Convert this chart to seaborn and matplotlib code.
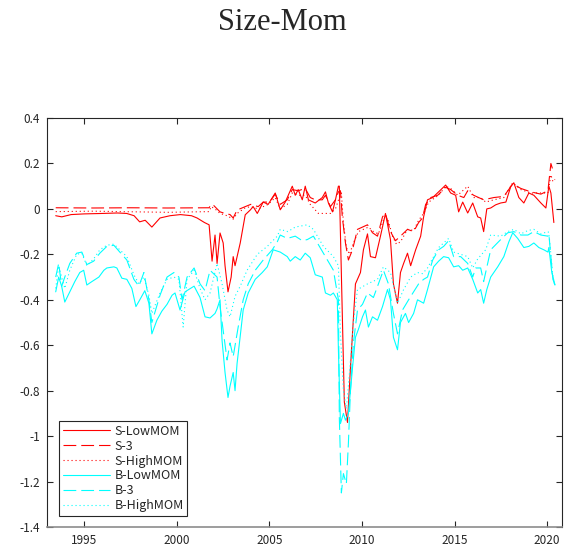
"""
Size-Mom: six size/momentum portfolio series, MATLAB-like look, saved to out.png.
"""
import matplotlib

matplotlib.use("Agg")
import matplotlib.pyplot as plt
import pandas as pd
import seaborn as sns

# --- data (year, value) ---
s_low_years = [1993.47, 1993.8, 1994.3, 1995.0, 1996.0, 1996.8, 1997.3, 1997.7, 1998.0, 1998.3,
               1998.66, 1999.1, 1999.64, 2000.2, 2000.8, 2001.1, 2001.5, 2001.75, 2001.91, 2002.07,
               2002.18, 2002.34, 2002.51, 2002.61, 2002.77, 2002.94, 2003.05, 2003.15, 2003.43, 2003.70,
               2003.97, 2004.13, 2004.35, 2004.67, 2004.94, 2005.32, 2005.59, 2005.86, 2006.24, 2006.40,
               2006.56, 2006.78, 2006.94, 2007.11, 2007.48, 2007.86, 2008.03, 2008.19, 2008.41, 2008.57,
               2008.73, 2008.78, 2009.05, 2009.22, 2009.38, 2009.65, 2009.92, 2010.08, 2010.30, 2010.46,
               2010.73, 2011.0, 2011.27, 2011.54, 2011.70, 2011.92, 2012.08, 2012.25, 2012.46, 2012.63,
               2012.90, 2013.17, 2013.33, 2013.54, 2013.82, 2014.14, 2014.52, 2014.79, 2015.06, 2015.22,
               2015.44, 2015.71, 2015.98, 2016.25, 2016.41, 2016.57, 2016.74, 2016.95, 2017.22, 2017.49,
               2017.77, 2018.04, 2018.20, 2018.47, 2018.74, 2019.01, 2019.28, 2019.66, 2019.93, 2020.09,
               2020.20, 2020.36]
s_low_vals = [-0.03, -0.035, -0.025, -0.022, -0.02, -0.018, -0.02, -0.03, -0.057, -0.05,
              -0.08, -0.04, -0.03, -0.025, -0.03, -0.04, -0.06, -0.07, -0.23, -0.115,
              -0.24, -0.106, -0.15, -0.25, -0.365, -0.30, -0.21, -0.25, -0.15, -0.026,
              -0.005, 0.01, -0.02, 0.03, 0.02, 0.07, -0.004, 0.03, 0.10, 0.06,
              0.085, 0.04, 0.10, 0.04, 0.026, 0.05, 0.075, 0.026, -0.013, 0.04,
              0.10, 0.10, -0.85, -0.94, -0.70, -0.33, -0.28, -0.18, -0.11, -0.21,
              -0.215, -0.12, -0.02, -0.135, -0.33, -0.415, -0.28, -0.24, -0.195, -0.25,
              -0.18, -0.12, -0.035, 0.04, 0.05, 0.075, 0.105, 0.07, 0.06, -0.013,
              0.03, -0.018, 0.026, -0.035, -0.04, -0.10, 0.0, 0.004, 0.018, 0.026,
              0.03, 0.10, 0.115, 0.05, 0.026, 0.07, 0.06, 0.026, 0.004, 0.10,
              0.07, -0.06]

s_mid_years = [1993.47, 1995.5, 1997.5, 1999.5, 2001.75, 2001.86, 2002.0, 2002.34, 2002.61, 2002.88,
               2003.05, 2003.26, 2003.70, 2004.0, 2004.4, 2004.67, 2005.0, 2005.32, 2005.59, 2005.97,
               2006.24, 2006.56, 2006.94, 2007.21, 2007.48, 2007.86, 2008.03, 2008.30, 2008.57, 2008.73,
               2008.84, 2008.94, 2009.11, 2009.27, 2009.49, 2009.76, 2010.03, 2010.30, 2010.57, 2010.84,
               2011.11, 2011.27, 2011.54, 2011.81, 2012.08, 2012.46, 2012.79, 2013.06, 2013.27, 2013.44,
               2013.71, 2014.09, 2014.52, 2014.79, 2015.17, 2015.5, 2015.71, 2016.03, 2016.57, 2017.12,
               2017.66, 2018.14, 2018.58, 2019.12, 2019.66, 2020.04, 2020.20, 2020.31, 2020.42]
s_mid_vals = [0.005, 0.004, 0.005, 0.004, 0.005, 0.02, 0.015, -0.013, -0.02, -0.025,
              -0.04, -0.005, 0.01, 0.02, 0.01, 0.03, 0.03, 0.065, 0.02, 0.04,
              0.085, 0.08, 0.09, 0.05, 0.04, 0.04, 0.06, 0.01, 0.04, 0.075,
              0.08, -0.035, -0.15, -0.225, -0.18, -0.09, -0.08, -0.07, -0.105, -0.12,
              -0.035, -0.02, -0.10, -0.14, -0.12, -0.09, -0.10, -0.06, -0.04, 0.02,
              0.05, 0.06, 0.095, 0.085, 0.06, 0.05, 0.08, 0.06, 0.04, 0.05,
              0.055, 0.11, 0.09, 0.075, 0.065, 0.08, 0.20, 0.17, 0.16]

s_high_years = [1993.47, 1995.5, 1997.0, 1999.5, 2001.75, 2001.86, 2002.07, 2002.34, 2002.72, 2003.05,
                2003.26, 2003.70, 2004.0, 2004.4, 2004.94, 2005.32, 2005.59, 2005.97, 2006.24, 2006.56,
                2006.94, 2007.21, 2007.65, 2008.03, 2008.30, 2008.57, 2008.78, 2008.89, 2009.00, 2009.16,
                2009.33, 2009.54, 2009.81, 2010.08, 2010.35, 2010.62, 2010.89, 2011.16, 2011.38, 2011.65,
                2011.86, 2012.08, 2012.46, 2012.79, 2013.06, 2013.33, 2013.6, 2013.87, 2014.14, 2014.52,
                2014.79, 2015.17, 2015.71, 2016.03, 2016.41, 2016.68, 2017.12, 2017.66, 2018.14, 2018.58,
                2019.12, 2019.66, 2020.04, 2020.20, 2020.31, 2020.42]
s_high_vals = [-0.012, -0.01, -0.012, -0.015, -0.012, 0.01, 0.0, -0.02, -0.03, -0.045,
               -0.02, 0.005, 0.01, 0.0, 0.02, 0.05, 0.0, 0.02, 0.07, 0.06,
               0.06, 0.02, -0.02, -0.02, -0.02, 0.0, 0.05, 0.07, -0.06, -0.17,
               -0.20, -0.15, -0.10, -0.09, -0.08, -0.10, -0.11, -0.05, -0.04, -0.12,
               -0.155, -0.145, -0.09, -0.095, -0.05, -0.02, 0.03, 0.045, 0.06, 0.10,
               0.09, 0.06, 0.10, 0.05, 0.05, 0.03, 0.04, 0.05, 0.115, 0.085,
               0.07, 0.07, 0.07, 0.15, 0.12, 0.13]

b_low_years = [1993.47, 1993.63, 1993.79, 1993.96, 1994.23, 1994.50, 1994.77, 1994.98, 1995.15, 1995.42,
               1995.80, 1996.07, 1996.23, 1996.61, 1996.77, 1997.04, 1997.31, 1997.58, 1997.80, 1998.01,
               1998.28, 1998.50, 1998.66, 1998.93, 1999.20, 1999.48, 1999.75, 1999.91, 2000.18, 2000.45,
               2000.94, 2001.26, 2001.53, 2001.80, 2002.07, 2002.18, 2002.34, 2002.45, 2002.61, 2002.77,
               2002.88, 2003.05, 2003.15, 2003.26, 2003.43, 2003.59, 2003.86, 2004.24, 2004.62, 2004.89,
               2005.21, 2005.59, 2005.97, 2006.13, 2006.40, 2006.67, 2006.94, 2007.21, 2007.48, 2007.86,
               2008.03, 2008.30, 2008.46, 2008.67, 2008.73, 2008.84, 2009.00, 2009.11, 2009.27, 2009.49,
               2009.65, 2009.81, 2010.03, 2010.19, 2010.35, 2010.57, 2010.84, 2011.11, 2011.38, 2011.54,
               2011.70, 2011.92, 2012.08, 2012.35, 2012.52, 2012.79, 2013.00, 2013.33, 2013.54, 2013.87,
               2014.14, 2014.41, 2014.68, 2014.95, 2015.22, 2015.44, 2015.71, 2015.98, 2016.25, 2016.41,
               2016.57, 2016.74, 2016.95, 2017.33, 2017.66, 2017.93, 2018.14, 2018.41, 2018.74, 2019.01,
               2019.28, 2019.55, 2019.82, 2020.04, 2020.09, 2020.25, 2020.42]
b_low_vals = [-0.365, -0.30, -0.34, -0.41, -0.365, -0.32, -0.28, -0.27, -0.335, -0.32,
              -0.30, -0.27, -0.26, -0.255, -0.26, -0.305, -0.31, -0.35, -0.43, -0.40,
              -0.36, -0.415, -0.55, -0.49, -0.45, -0.42, -0.38, -0.37, -0.445, -0.365,
              -0.34, -0.39, -0.475, -0.48, -0.46, -0.44, -0.40, -0.58, -0.72, -0.83,
              -0.78, -0.72, -0.80, -0.68, -0.56, -0.445, -0.37, -0.31, -0.28, -0.255,
              -0.18, -0.19, -0.21, -0.23, -0.21, -0.225, -0.195, -0.215, -0.29, -0.30,
              -0.37, -0.38, -0.37, -0.40, -0.62, -0.945, -0.90, -0.93, -0.90, -0.70,
              -0.565, -0.53, -0.475, -0.445, -0.52, -0.475, -0.49, -0.43, -0.355, -0.40,
              -0.565, -0.62, -0.50, -0.46, -0.50, -0.46, -0.40, -0.415, -0.355, -0.255,
              -0.23, -0.21, -0.215, -0.255, -0.25, -0.27, -0.26, -0.31, -0.37, -0.355,
              -0.415, -0.355, -0.30, -0.255, -0.21, -0.145, -0.105, -0.13, -0.17, -0.165,
              -0.15, -0.17, -0.18, -0.19, -0.17, -0.28, -0.335]

b_mid_years = [1993.47, 1993.63, 1993.79, 1993.96, 1994.23, 1994.60, 1994.88, 1995.15, 1995.52, 1995.85,
               1996.23, 1996.61, 1996.93, 1997.31, 1997.69, 1997.96, 1998.23, 1998.50, 1998.66, 1999.10,
               1999.48, 1999.85, 2000.12, 2000.29, 2000.56, 2000.94, 2001.26, 2001.53, 2001.80, 2002.18,
               2002.34, 2002.72, 2002.88, 2003.05, 2003.32, 2003.59, 2003.86, 2004.24, 2004.67, 2005.16,
               2005.43, 2005.59, 2005.97, 2006.40, 2006.78, 2007.05, 2007.38, 2007.92, 2008.46, 2008.73,
               2008.78, 2008.89, 2009.00, 2009.16, 2009.27, 2009.38, 2009.54, 2009.76, 2010.03, 2010.30,
               2010.62, 2010.89, 2011.16, 2011.43, 2011.70, 2011.92, 2012.19, 2012.52, 2013.06, 2013.33,
               2013.54, 2013.82, 2014.14, 2014.41, 2014.68, 2014.95, 2015.33, 2015.71, 2015.98, 2016.14,
               2016.41, 2016.57, 2016.95, 2017.49, 2017.87, 2018.20, 2018.58, 2018.96, 2019.28, 2019.66,
               2020.04, 2020.09, 2020.31, 2020.42]
b_mid_vals = [-0.30, -0.24, -0.34, -0.30, -0.24, -0.195, -0.19, -0.245, -0.23, -0.195,
              -0.165, -0.16, -0.19, -0.225, -0.31, -0.34, -0.28, -0.40, -0.50, -0.38,
              -0.30, -0.28, -0.30, -0.40, -0.30, -0.26, -0.33, -0.36, -0.27, -0.30,
              -0.43, -0.665, -0.59, -0.65, -0.52, -0.40, -0.33, -0.27, -0.225, -0.18,
              -0.145, -0.115, -0.13, -0.12, -0.14, -0.135, -0.12, -0.195, -0.27, -0.40,
              -0.92, -1.25, -1.165, -1.21, -1.03, -0.80, -0.59, -0.445, -0.42, -0.37,
              -0.39, -0.33, -0.27, -0.33, -0.46, -0.55, -0.445, -0.40, -0.33, -0.31,
              -0.30, -0.225, -0.18, -0.165, -0.14, -0.21, -0.21, -0.24, -0.30, -0.26,
              -0.26, -0.32, -0.18, -0.135, -0.105, -0.10, -0.115, -0.115, -0.10, -0.115,
              -0.12, -0.11, -0.31, -0.335]

b_high_years = [1993.47, 1993.63, 1993.79, 1993.96, 1994.23, 1994.60, 1994.88, 1995.15, 1995.52, 1995.85,
                1996.23, 1996.61, 1996.93, 1997.31, 1997.69, 1997.96, 1998.23, 1998.50, 1998.66, 1999.10,
                1999.48, 1999.85, 2000.12, 2000.35, 2000.56, 2000.94, 2001.26, 2001.53, 2001.80, 2002.18,
                2002.45, 2002.72, 2002.88, 2003.15, 2003.43, 2003.80, 2004.35, 2004.89, 2005.43, 2005.59,
                2006.0, 2006.4, 2007.05, 2007.38, 2007.92, 2008.46, 2008.73, 2008.84, 2009.0, 2009.16,
                2009.33, 2009.54, 2009.76, 2010.30, 2010.84, 2011.16, 2011.54, 2011.92, 2012.25, 2012.63,
                2013.0, 2013.27, 2013.54, 2013.87, 2014.14, 2014.41, 2014.68, 2014.95, 2015.33, 2015.71,
                2015.98, 2016.25, 2016.68, 2016.95, 2017.49, 2017.87, 2018.20, 2018.58, 2018.96, 2019.28,
                2019.66, 2020.04, 2020.09, 2020.31, 2020.42]
b_high_vals = [-0.35, -0.25, -0.30, -0.35, -0.27, -0.20, -0.195, -0.25, -0.22, -0.18,
               -0.16, -0.155, -0.18, -0.21, -0.29, -0.33, -0.30, -0.38, -0.46, -0.37,
               -0.31, -0.30, -0.31, -0.52, -0.31, -0.27, -0.35, -0.40, -0.37, -0.24,
               -0.33, -0.445, -0.475, -0.385, -0.34, -0.27, -0.20, -0.165, -0.12, -0.09,
               -0.10, -0.08, -0.07, -0.09, -0.165, -0.21, -0.25, -0.55, -0.80, -0.88,
               -0.72, -0.50, -0.355, -0.33, -0.31, -0.255, -0.28, -0.415, -0.355, -0.30,
               -0.28, -0.285, -0.26, -0.21, -0.17, -0.15, -0.13, -0.19, -0.20, -0.21,
               -0.26, -0.22, -0.18, -0.115, -0.12, -0.10, -0.09, -0.11, -0.095, -0.09,
               -0.11, -0.10, -0.105, -0.30, -0.34]

series = [
    ("S-LowMOM", s_low_years, s_low_vals, "#ff0000", "solid"),
    ("S-3", s_mid_years, s_mid_vals, "#ff0000", "dash"),
    ("S-HighMOM", s_high_years, s_high_vals, "#ff0000", "dot"),
    ("B-LowMOM", b_low_years, b_low_vals, "#00ffff", "solid"),
    ("B-3", b_mid_years, b_mid_vals, "#00ffff", "dash"),
    ("B-HighMOM", b_high_years, b_high_vals, "#00ffff", "dot"),
]

y_ticks = [-1.4, -1.2, -1.0, -0.8, -0.6, -0.4, -0.2, 0.0, 0.2, 0.4]
x_ticks = [1995, 2000, 2005, 2010, 2015, 2020]

DASHES = {"solid": "-", "dash": (0, (11.5, 4.5)), "dot": (0, (1.0, 2.6))}


def main() -> None:
    sns.set_theme(style="ticks")
    plt.rcParams["font.family"] = ["Noto Sans CJK JP", "DejaVu Sans"]

    fig = plt.figure(figsize=(5.65, 5.52), dpi=100)
    ax = fig.add_axes([0.0832, 0.0453, 0.9115, 0.7409])

    for name, xs, ys, color, style in series:
        df = pd.DataFrame({"year": xs, "value": ys})
        sns.lineplot(data=df, x="year", y="value", ax=ax, color=color,
                     linestyle=DASHES[style], linewidth=0.8, label=name, estimator=None)

    ax.set_xlim(1993.0, 2020.8)
    ax.set_ylim(-1.4, 0.4)
    ax.set_xticks(x_ticks)
    ax.set_yticks(y_ticks)
    ax.set_yticklabels(["%g" % v if v != 0 else "0" for v in y_ticks])
    ax.set_xlabel("")
    ax.set_ylabel("")
    ax.tick_params(direction="in", top=True, right=True, length=4, width=0.8,
                   labelsize=8.5, colors="#262626", pad=5)
    for side in ["top", "left", "right"]:
        ax.spines[side].set_visible(True)
        ax.spines[side].set_color("#262626")
        ax.spines[side].set_linewidth(0.8)
    ax.spines["bottom"].set_color("#8c8c8c")
    ax.spines["bottom"].set_linewidth(1.2)

    leg = ax.legend(loc="lower left", bbox_to_anchor=(0.024, 0.027), borderaxespad=0,
                    fontsize=9, frameon=True, fancybox=False, framealpha=1,
                    edgecolor="#262626", handlelength=3.75, handletextpad=0.35,
                    labelspacing=0.15, borderpad=0.3)
    leg.get_frame().set_linewidth(0.8)

    fig.suptitle("Size-Mom", y=0.985, fontsize=22, family="Liberation Serif", va="top")

    fig.savefig("out.png", dpi=100)
    plt.close(fig)


if __name__ == "__main__":
    main()
